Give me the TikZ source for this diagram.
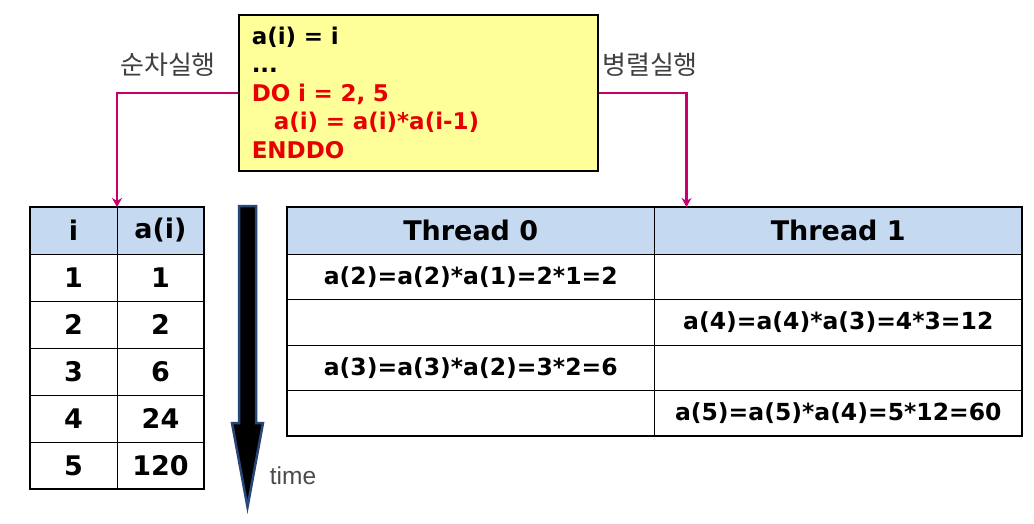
\documentclass[tikz,border=0pt]{standalone}
\usepackage{fontspec}
\setmainfont{DejaVu Sans}
\newfontfamily\krfont{Noto Sans CJK KR}
\newfontfamily\timefont{Liberation Sans}
\usetikzlibrary{positioning, arrows.meta}

\definecolor{codeyellow}{RGB}{255,255,153}
\definecolor{codered}{RGB}{230,0,0}
\definecolor{headblue}{RGB}{197,217,241}
\definecolor{linkred}{RGB}{200,0,110}
\definecolor{timeblue}{RGB}{40,70,120}

\tikzstyle{codebox} = [rectangle, draw=black, line width=1.5pt, fill=codeyellow, minimum width=359pt, minimum height=156pt, text width=333pt, inner xsep=13pt, inner ysep=2pt, align=left, font=\bfseries\fontsize{23}{28.5}\selectfont]
\tikzstyle{runlabel} = [font=\krfont\fontsize{26}{30}\selectfont, text=black!75]
\tikzstyle{seqhead} = [rectangle, draw=black, line width=0.8pt, fill=headblue, minimum width=87pt, minimum height=47pt, outer sep=0pt, inner sep=0pt, font=\bfseries\fontsize{27}{30}\selectfont]
\tikzstyle{seqcell} = [seqhead, fill=white]
\tikzstyle{parhead} = [rectangle, draw=black, line width=0.8pt, fill=headblue, minimum width=367.5pt, minimum height=47pt, outer sep=0pt, inner sep=0pt, font=\bfseries\fontsize{27}{30}\selectfont]
\tikzstyle{parcell} = [parhead, fill=white, minimum height=45.5pt, font=\bfseries\fontsize{23.5}{26}\selectfont]
\tikzstyle{arrow} = [line width=2.3pt, draw=linkred, -{Stealth[length=9pt,width=10pt]}]
\tikzstyle{frame} = [line width=2.2pt]

\begin{document}
\begin{tikzpicture}[x=1pt, y=-1pt, node distance=0pt]
\fill [white] (0,0) rectangle (1034,523);
\useasboundingbox (0,0) rectangle (1034,523);

\node (code) [codebox, anchor=north west] at (238,14) {a(i) = i\\
...\\
\textcolor{codered}{DO i = 2, 5}\\
\textcolor{codered}{\hspace*{22pt}a(i) = a(i)*a(i-1)}\\
\textcolor{codered}{ENDDO}};

\node (seqlabel) [runlabel] at (168,65) {순차실행};
\node (parlabel) [runlabel] at (650,65) {병렬실행};

% sequential table
\node (hi) [seqhead] at (73.5,230.5) {i};
\node (ha) [seqhead, right=of hi] {a(i)};
\node (i1) [seqcell, below=of hi] {1};
\node (a1) [seqcell, below=of ha] {1};
\node (i2) [seqcell, below=of i1] {2};
\node (a2) [seqcell, below=of a1] {2};
\node (i3) [seqcell, below=of i2] {3};
\node (a3) [seqcell, below=of a2] {6};
\node (i4) [seqcell, below=of i3] {4};
\node (a4) [seqcell, below=of a3] {24};
\node (i5) [seqcell, below=of i4] {5};
\node (a5) [seqcell, below=of a4] {120};
\draw [frame] (hi.north west) rectangle (a5.south east);

% parallel table
\node (h0) [parhead] at (470.75,230.5) {Thread 0};
\node (h1) [parhead, right=of h0] {Thread 1};
\node (r1a) [parcell, below=of h0] {a(2)=a(2)*a(1)=2*1=2};
\node (r1b) [parcell, below=of h1] {};
\node (r2a) [parcell, below=of r1a] {};
\node (r2b) [parcell, below=of r1b] {a(4)=a(4)*a(3)=4*3=12};
\node (r3a) [parcell, below=of r2a] {a(3)=a(3)*a(2)=3*2=6};
\node (r3b) [parcell, below=of r2b] {};
\node (r4a) [parcell, below=of r3a] {};
\node (r4b) [parcell, below=of r3b] {a(5)=a(5)*a(4)=5*12=60};
\draw [frame] (h0.north west) rectangle (r4b.south east);

% time arrow
\draw [timeblue, line width=2.5pt, fill=black] (239,206) -- (256,206) -- (256,423) -- (263,423) -- (247.5,507) -- (232,423) -- (239,423) -- cycle;
\node (timelabel) [font=\timefont\fontsize{24.5}{26}\selectfont, text=black!70] at (293,476) {time};

% Arrows
\draw [arrow] (code.west) -| (hi.north east);
\draw [arrow] (code.east) -| ([xshift=32pt]h0.north east);

\end{tikzpicture}
\end{document}
